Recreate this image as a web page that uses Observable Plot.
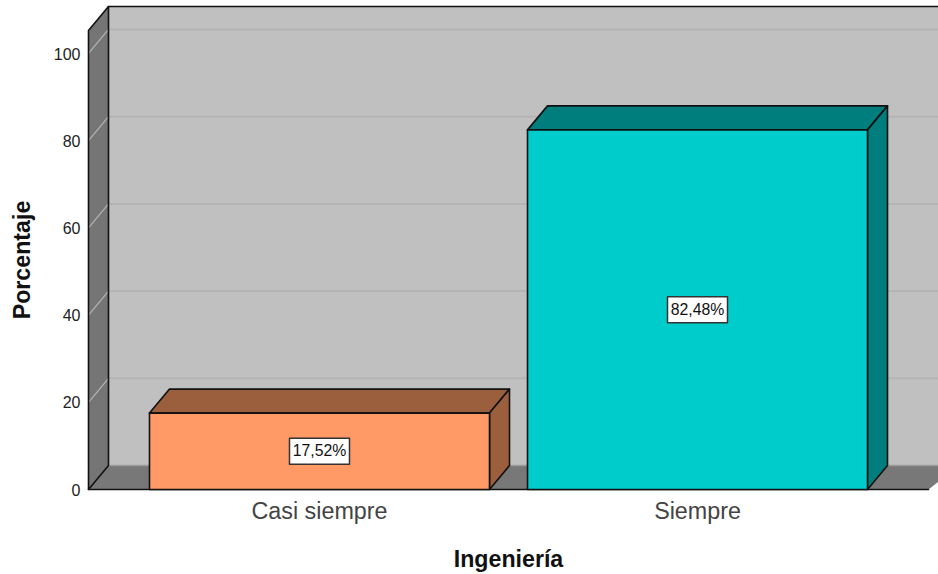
<!DOCTYPE html>
<html><head><meta charset="utf-8">
<style>html,body{margin:0;padding:0;background:#fff}svg{display:block}</style>
<script src="https://cdn.jsdelivr.net/npm/d3@7"></script>
<script src="https://cdn.jsdelivr.net/npm/@observablehq/plot@0.6"></script>
</head><body><div id="chart"></div>
<script>
const categories = ["Casi siempre", "Siempre"];
const percentages = [17.52, 82.48];
const valueLabels = ["17,52%", "82,48%"];
const frontColors = ["#ff9966", "#00cccc"];
const shadeColors = ["#9c5f3e", "#007d7d"];
const yTicks = [0, 20, 40, 60, 80, 100];
const axisTitleX = "Ingeniería";
const axisTitleY = "Porcentaje";

// data-space geometry: categories at 0,1; one category step = 378px, one percent = 4.36px
const stepPx = 378;
const xMin = -0.6111, xMax = 1.6111, yMax = 105.27;
const barW = 340 / stepPx;
const dx = 20 / stepPx, dy = 24 / 4.36;
const boxW = 60 / stepPx, boxH = 26 / 4.36;
const edge = "#111";

const poly = (pts, fill, stroke = "none", sw = 1.6) =>
  Plot.line(pts, {x: "0", y: "1", curve: "linear-closed", fill, stroke, strokeWidth: sw, strokeLinejoin: "round"});
const seg = (pts, stroke, sw) =>
  Plot.line(pts, {x: "0", y: "1", stroke, strokeWidth: sw});

const marks = [];
// back wall (runs off the right edge of the picture)
const rightEdge = xMax + 10 / stepPx;
marks.push(poly([[xMin + dx, 0 + dy], [rightEdge, dy], [rightEdge, yMax + dy], [xMin + dx, yMax + dy]], "#c0c0c0"));
// back wall gridlines
for (const v of yTicks.slice(1)) marks.push(seg([[xMin + dx, v + dy], [rightEdge, v + dy]], "#b4b4b4", 2));
// left wall
marks.push(poly([[xMin, 0], [xMin + dx, dy], [xMin + dx, yMax + dy], [xMin, yMax]], "#757575"));
for (const v of yTicks.slice(1)) marks.push(seg([[xMin, v], [xMin + dx, v + dy]], "#b4b4b4", 1.2));
// floor
marks.push(poly([[xMin, 0], [xMin + dx, dy], [rightEdge + 20 / stepPx, dy], [xMax, 0]], "#787878"));
marks.push(seg([[xMin + dx, dy], [rightEdge, dy]], "#9a9a9a", 1.5));
// structural edges
marks.push(seg([[xMin, 0], [xMin, yMax], [xMin + dx, yMax + dy], [xMin + dx, dy], [xMin, 0]], edge, 1.6));
marks.push(seg([[xMin + dx, yMax + dy], [rightEdge, yMax + dy]], edge, 1.6));
marks.push(seg([[xMin, 0], [xMax, 0]], edge, 1.6));

// bars
categories.forEach((c, i) => {
  const v = percentages[i], l = i - barW / 2, r = i + barW / 2;
  marks.push(poly([[l, v], [r, v], [r + dx, v + dy], [l + dx, v + dy]], shadeColors[i], edge));
  marks.push(poly([[r, 0], [r + dx, dy], [r + dx, v + dy], [r, v]], shadeColors[i], edge));
  marks.push(poly([[l, 0], [r, 0], [r, v], [l, v]], frontColors[i], edge));
  const m = v / 2;
  marks.push(poly([[i - boxW / 2, m - boxH / 2], [i + boxW / 2, m - boxH / 2], [i + boxW / 2, m + boxH / 2], [i - boxW / 2, m + boxH / 2]], "#fff", "#333", 1.5));
});
marks.push(Plot.text(categories.map((c, i) => ({i, v: percentages[i] / 2, t: valueLabels[i]})), {
  x: "i", y: "v", text: "t", fontSize: 15.8, fill: "#111", textAnchor: "middle", lineAnchor: "middle"
}));

marks.push(Plot.axisY({ticks: yTicks, tickSize: 0, tickPadding: 8, fontSize: 16, dy: 1, label: null, color: "#222"}));
marks.push(Plot.axisX({ticks: [0, 1], tickFormat: i => categories[i], tickSize: 0, tickPadding: 13, fontSize: 23.3, fontWeight: 300, label: null, color: "#444"}));
marks.push(Plot.text([axisTitleX], {frameAnchor: "bottom", dy: 70, text: d => d, fontSize: 23.2, fontWeight: "bold", fill: "#111", lineAnchor: "middle"}));
marks.push(Plot.text([axisTitleY], {frameAnchor: "left", dx: -66, rotate: -90, text: d => d, fontSize: 23.2, fontWeight: "bold", fill: "#111", textAnchor: "middle", lineAnchor: "middle"}));

const chart = Plot.plot({
  width: 938, height: 574,
  marginLeft: 88, marginRight: 10, marginTop: 30, marginBottom: 85,
  style: {fontFamily: "'Liberation Sans', Arial, sans-serif", background: "#fff", overflow: "hidden"},
  x: {domain: [xMin, xMax], axis: null},
  y: {domain: [0, yMax], axis: null},
  marks
});
document.getElementById("chart").append(chart);
</script></body></html>
